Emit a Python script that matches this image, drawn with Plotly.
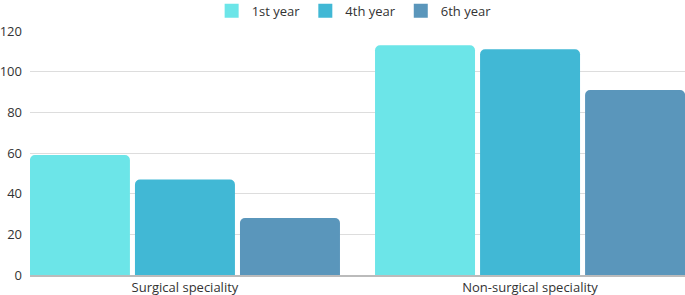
import plotly.graph_objects as go

categories = ["Surgical speciality", "Non-surgical speciality"]
series_names = ["1st year", "4th year", "6th year"]
first_year = [59, 113]
fourth_year = [47, 111]
sixth_year = [28, 91]
colors = ["#6ce5e8", "#41b8d5", "#5a96bb"]
y_ticks = [0, 20, 40, 60, 80, 100, 120]

fig = go.Figure()
for name, vals, col in zip(series_names, [first_year, fourth_year, sixth_year], colors):
    fig.add_trace(go.Bar(x=categories, y=vals, name=name, legendgroup=name, showlegend=False,
                         marker=dict(color=col, line=dict(width=0))))
for name, col in zip(series_names, colors):
    fig.add_trace(go.Scatter(x=[None], y=[None], mode="markers", name=name, legendgroup=name,
                             marker=dict(symbol="square", size=14, color=col), showlegend=True))

fig.update_layout(
    width=685, height=295,
    margin=dict(l=30, r=0, t=31, b=20, autoexpand=False),
    paper_bgcolor="white", plot_bgcolor="white",
    font=dict(family="Open Sans", size=13, color="#333333"),
    barmode="group", bargap=0.087, bargroupgap=0.048,
    barcornerradius=5,
    showlegend=True,
    legend=dict(orientation="h", x=0.517, xanchor="center", xref="container",
                y=0.963, yanchor="middle", yref="container",
                font=dict(size=13, color="#333333"), itemwidth=30,
                traceorder="normal", tracegroupgap=0),
    xaxis=dict(range=[-0.449, 1.449], showgrid=False, showline=True, linecolor="#bbbbbb",
               linewidth=1.5, ticks="", automargin=False, tickfont=dict(size=13, color="#333333")),
    yaxis=dict(range=[0, 120], tickvals=y_ticks, showgrid=True, gridcolor="#dddddd",
               gridwidth=1, zeroline=False, showline=False, ticks="", ticklen=0,
               ticklabelstandoff=7,
               automargin=False, tickfont=dict(size=13, color="#333333")),
)
fig.write_html("out.html", config={"displayModeBar": False},
               post_script="document.body.style.margin='0';")
